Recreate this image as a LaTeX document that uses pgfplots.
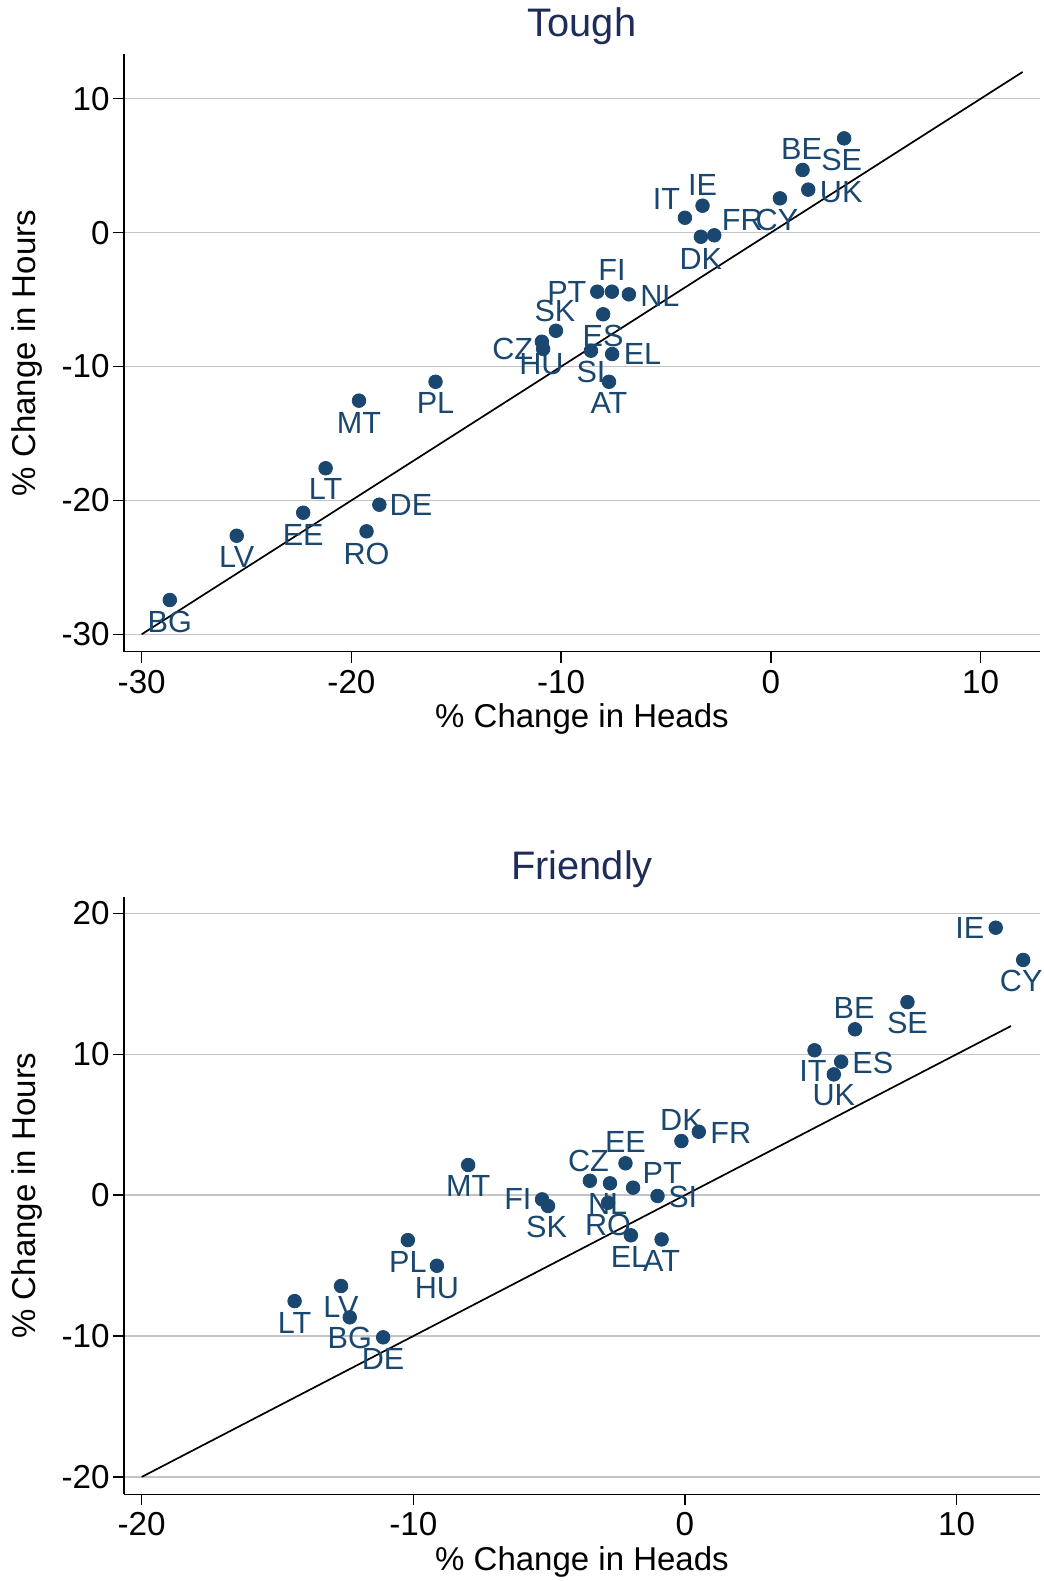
\documentclass[border=0pt]{standalone}
\usepackage{fontspec}
\setmainfont{Liberation Sans}
\usepackage{pgfplots}
\pgfplotsset{compat=1.18}
\usepackage{pgfplotstable}
\definecolor{mk}{RGB}{26,71,111}
\definecolor{ttl}{RGB}{30,45,88}
\definecolor{gridc}{RGB}{196,196,196}

\pgfplotstableread{
lab x y dx dy
SE 3.49 7.04 -1.2 -10.6
BE 1.51 4.68 -0.5 10.3
UK 1.78 3.21 16.5 -1.2
CY 0.43 2.56 -1.5 -10.6
FR -2.70 -0.20 14.0 7.8
IT -4.10 1.11 -9.2 9.3
IE -3.26 2.01 0 10.3
DK -3.34 -0.31 0 -11.0
FI -7.58 -4.41 0 10.7
PT -8.28 -4.41 -15.2 0
NL -6.77 -4.61 15.5 -0.7
ES -8.00 -6.10 0 -10.9
SK -10.25 -7.33 -0.5 9.8
HU -10.92 -8.15 -0.2 -11.2
CZ -10.86 -8.69 -15.2 0
SI -8.58 -8.82 0 -10.7
EL -7.57 -9.07 15.2 0
AT -7.72 -11.14 0 -10.5
PL -15.99 -11.14 0 -10.7
MT -19.64 -12.55 0 -11.0
LT -21.23 -17.60 0 -10.6
DE -18.67 -20.32 15.8 0
EE -22.30 -20.92 0 -10.9
RO -19.28 -22.31 0 -11.2
LV -25.47 -22.64 0 -10.5
BG -28.66 -27.44 0 -10.9
}\toughdata

\pgfplotstableread{
lab x y dx dy
IE 11.44 18.98 -13.0 0
CY 12.45 16.69 -1.0 -10.6
SE 8.19 13.70 0 -10.6
BE 6.26 11.77 -0.5 10.8
IT 4.77 10.28 -0.8 -10.5
ES 5.75 9.47 15.8 -0.5
UK 5.48 8.57 0 -10.6
DK -0.13 3.84 0 10.7
FR 0.51 4.50 16.0 -0.8
EE -2.19 2.26 0 10.7
CZ -3.50 1.02 -0.7 10.0
NL -2.76 0.84 -1.2 -10.3
PT -1.91 0.53 14.6 7.5
RO -2.83 -0.54 0 -10.9
SI -1.01 -0.06 12.6 -0.3
FI -5.26 -0.30 -12.1 0
SK -5.04 -0.77 -0.7 -10.3
EL -1.99 -2.85 -0.7 -11.0
AT -0.86 -3.14 0 -10.9
MT -7.98 2.14 0 -10.6
PL -10.20 -3.19 0 -11.0
HU -9.13 -5.01 0 -11.0
LV -12.66 -6.45 0 -10.7
LT -14.37 -7.52 0 -10.9
BG -12.34 -8.67 0 -10.5
DE -11.11 -10.09 0 -11.0
}\friendlydata

\pgfplotsset{
  panel/.style={
    scale only axis,
    width=458pt,
    anchor=south west,
    axis lines=left,
    axis line style={-, line width=0.7pt, black},
    tick align=outside,
    major tick length=5.5pt,
    tick style={line width=0.7pt, black},
    ymajorgrids,
    grid style={gridc, line width=0.65pt},
    clip=false,
    /pgf/number format/assume math mode=true,
    tick label style={font=\fontsize{16.6}{19}\selectfont, inner sep=0pt},
    xticklabel style={yshift=-3.5pt},
    yticklabel style={xshift=-1.5pt},
    every axis x label/.style={at={(axis description cs:0.5,-0.127)}, anchor=base, font=\fontsize{16.5}{19}\selectfont},
    every axis y label/.style={at={(axis description cs:-0.097,0.5)}, rotate=90, anchor=base, font=\fontsize{16.5}{19}\selectfont},
    every axis title/.style={at={(axis description cs:0.5,1.0295)}, anchor=base, font=\fontsize{19.9}{23}\selectfont, text=ttl},
    xlabel={\% Change in Heads},
    ylabel={\% Change in Hours},
  },
  pts/.style={
    only marks, mark=*, mark size=3.4pt, color=mk,
    nodes near coords, point meta=explicit symbolic,
    visualization depends on={\thisrow{dx} \as \ldx},
    visualization depends on={\thisrow{dy} \as \ldy},
    every node near coord/.append style={anchor=center, inner sep=0pt, xshift=\ldx pt, yshift=\ldy pt, font=\fontsize{15.3}{18}\selectfont, text=mk},
  },
}

\begin{document}
\begin{tikzpicture}
\path[use as bounding box] (0,0) rectangle (522pt,790.5pt);
\begin{axis}[panel,
  at={(62pt,464.65pt)},
  height=298.7pt,
  xmin=-30.844, xmax=12.83, ymin=-31.30, ymax=13.32,
  xtick={-30,-20,-10,0,10}, ytick={-30,-20,-10,0,10},
  title={Tough}]
\addplot[black, line width=0.85pt] coordinates {(-30,-30) (12,12)};
\addplot[pts] table[x=x, y=y, meta=lab] {\toughdata};
\end{axis}
\begin{axis}[panel,
  at={(62pt,43.35pt)},
  height=298.8pt,
  xmin=-20.65, xmax=13.07, ymin=-21.23, ymax=21.18,
  xtick={-20,-10,0,10}, ytick={-20,-10,0,10,20},
  title={Friendly}]
\addplot[black, line width=0.85pt] coordinates {(-20,-20) (12,12)};
\addplot[pts] table[x=x, y=y, meta=lab] {\friendlydata};
\end{axis}
\end{tikzpicture}
\end{document}
